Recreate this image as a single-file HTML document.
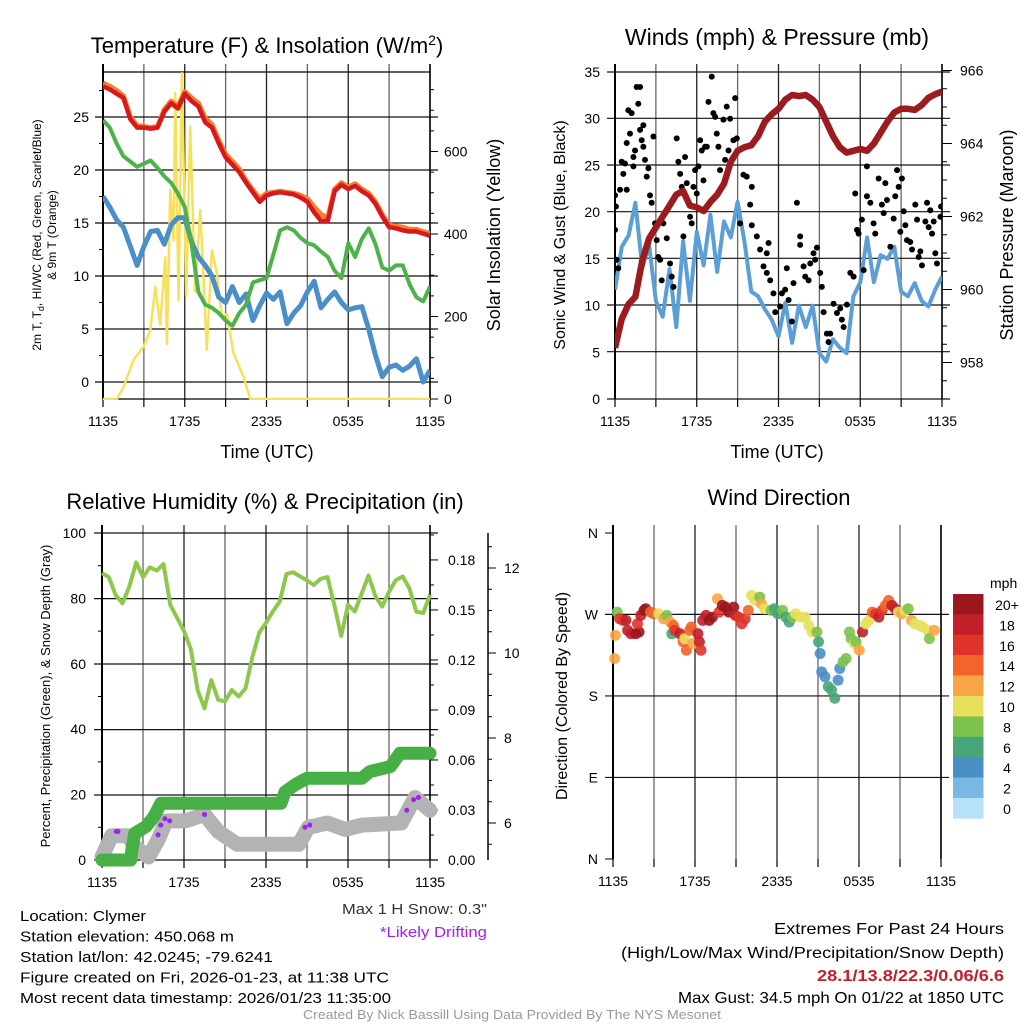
<!DOCTYPE html>
<html><head><meta charset="utf-8"><style>
html,body{margin:0;padding:0;background:#fff}
svg{display:block;font-family:"Liberation Sans",sans-serif}
</style></head><body>
<svg id="c" width="1024" height="1024" viewBox="0 0 1024 1024"></svg>
<script>
// ---------- DATA ----------
const tickHours=[0,6,12,18,24];
const timeLabels=["1135","1735","2335","0535","1135"];
const tempRed=[27.9,27.6,27.2,26.8,24.8,24.0,24.0,23.9,24.0,25.5,26.3,25.8,27.2,26.5,26.0,24.5,24.0,22.5,21.2,20.5,19.8,18.8,17.9,17.0,17.6,17.8,17.9,17.8,17.7,17.4,17.0,16.0,15.2,15.2,18.0,18.6,18.2,18.5,18.0,17.6,16.8,15.6,14.6,14.5,14.3,14.2,14.2,14.0,13.8];
const tempOrange=[28.2,27.9,27.5,27.0,25.0,24.2,24.1,24.0,24.1,25.7,26.5,26.0,27.4,26.8,26.3,24.9,24.3,22.8,21.5,20.8,20.1,19.0,18.1,17.3,17.8,17.9,18.0,17.9,17.8,17.6,17.3,16.5,15.8,15.5,18.2,18.8,18.4,18.7,18.2,17.8,17.0,15.8,14.8,14.7,14.6,14.4,14.4,14.2,14.0];
const tempGreen=[24.7,24.0,22.5,21.3,20.8,20.3,20.6,20.9,20.2,19.4,18.8,17.8,16.5,13.0,8.5,7.3,7.0,6.5,5.8,5.3,6.5,7.3,9.4,9.6,9.8,12.0,14.3,14.6,14.3,13.6,13.1,12.9,12.3,11.8,10.5,9.8,13.1,11.8,13.5,14.5,13.0,10.8,10.5,11.0,11.0,9.2,8.0,7.6,9.0];
const tempBlue=[17.5,16.5,15.3,14.6,12.8,11.0,12.8,14.2,14.3,13.0,14.8,15.5,15.5,13.2,11.8,11.0,10.0,8.0,7.5,9.0,7.5,8.3,5.8,7.2,8.4,7.8,8.5,5.5,6.5,7.2,8.5,9.5,7.0,7.8,8.5,7.5,6.8,7.0,7.1,5.0,2.5,0.5,1.4,1.6,1.1,1.5,2.2,0.0,1.1];
const insolHours=[0,1.03,1.52,2.25,2.98,3.47,3.84,4.2,4.57,4.69,4.94,5.18,5.3,5.55,5.79,6.11,6.4,6.77,7.14,7.62,7.99,8.36,8.72,9.09,9.58,10.31,10.8,24];
const insolValues=[0,0,30,95,127,167,272,180,343,133,507,385,742,240,790,250,660,260,458,119,361,305,200,206,111,54,0,0];
const windSpeed=[11.7,16.3,17.5,21.0,14.0,16.5,10.5,8.8,13.9,7.7,16.9,10.5,17.9,14.3,19.7,13.6,19.0,17.3,21.1,16.9,11.5,11.0,9.6,8.5,6.7,10.3,6.0,10.0,7.7,10.0,4.9,4.0,6.4,5.5,4.9,11.0,12.5,17.3,12.5,15.4,15.0,16.3,11.5,11.0,12.4,10.5,9.9,11.7,13.1];
const pressure=[958.4,959.2,959.6,959.8,960.8,961.4,961.7,962.0,962.3,962.6,962.7,962.3,962.25,962.15,962.4,962.6,962.9,963.5,963.8,963.9,963.95,964.2,964.6,964.8,964.95,965.2,965.33,965.3,965.33,965.2,965.0,964.6,964.2,963.9,963.75,963.8,963.85,963.8,964.0,964.3,964.6,964.85,964.95,964.95,964.92,965.05,965.25,965.35,965.42];
const gustHours=[0,0.07,0,0.12,0.24,0.37,0.49,0.61,0.73,0.86,0.86,0.98,1.10,1.22,1.35,1.35,1.47,1.59,1.71,1.84,1.84,1.96,2.08,2.08,2.20,2.33,2.45,2.57,2.69,2.82,2.94,3.06,3.18,3.31,3.43,3.55,3.80,4.04,4.16,4.29,4.53,4.65,4.78,4.90,5.02,5.14,5.27,5.51,5.63,5.76,5.88,6.00,6.12,6.25,6.37,6.49,6.61,6.74,6.86,7.10,7.22,7.35,7.47,7.59,7.71,7.96,8.08,8.20,8.33,8.45,8.69,8.82,8.94,9.18,9.43,9.67,10.04,9.92,10.04,10.41,10.65,10.90,11.14,11.27,11.14,11.39,11.63,11.76,12.12,12.25,12.49,12.61,12.74,12.98,13.10,13.35,13.59,13.59,13.84,13.96,14.21,14.33,14.57,14.69,14.82,15.06,15.18,15.31,15.55,15.67,15.80,16.04,16.29,16.53,16.65,16.78,17.02,17.27,17.51,17.63,17.76,17.88,18.12,18.25,18.49,18.49,18.74,18.98,19.10,19.35,19.59,19.72,19.84,19.96,20.21,20.45,20.57,20.70,20.82,20.94,21.06,21.19,21.31,21.43,21.67,21.80,22.04,22.17,22.29,22.41,22.53,22.78,22.90,23.02,23.14,23.27,23.39,23.51,23.63,23.88,23.93];
const gustValues=[21.8,20.6,18.1,14.9,14.0,22.4,25.4,24.1,25.2,22.4,27.4,30.9,28.4,30.6,24.9,25.9,26.6,33.4,31.6,33.4,28.8,27.7,29.3,27.0,25.6,23.8,24.7,21.8,21.0,28.1,18.8,17.0,15.2,14.9,12.7,18.8,17.2,14.5,13.1,12.0,27.9,25.4,24.1,22.7,17.4,25.9,23.1,19.5,18.8,22.7,24.5,22.0,24.9,27.7,26.6,23.4,27.0,27.0,31.8,34.5,30.6,30.2,28.4,27.0,24.5,29.9,25.6,31.3,26.6,30.0,27.7,32.2,27.9,18.8,24.0,23.8,22.7,20.8,18.6,17.4,16.0,14.2,15.6,16.7,13.5,12.7,11.3,9.3,9.9,11.3,11.7,14.0,10.6,8.3,12.4,21.0,17.4,16.5,14.2,13.1,12.7,14.5,15.6,14.9,16.2,13.5,12.0,9.3,7.0,6.1,7.0,10.2,9.2,9.7,8.5,7.7,10.1,13.5,13.1,22.0,18.1,17.7,19.2,13.8,24.9,21.7,21.0,18.8,17.7,23.6,20.8,19.9,23.1,21.3,16.3,19.3,21.7,24.5,22.7,17.9,23.6,20.1,18.6,17.0,16.8,16.0,20.8,19.2,15.2,15.8,14.3,19.0,21.0,18.4,20.2,17.7,19.0,15.6,14.5,19.5,20.6];
const rhValues=[87.7,86.5,81.0,78.5,83.6,91.0,86.5,89.5,88.5,90.5,78.0,74.0,70.0,64.5,51.9,46.4,55.0,49.0,48.5,52.0,50.0,52.5,62.0,69.5,72.5,76.0,79.0,87.5,88.0,86.7,85.5,84.1,86.0,86.5,78.0,68.5,78.0,76.0,81.5,87.0,80.8,77.5,82.0,85.6,86.7,83.0,76.0,75.5,81.1];
const precipHours=[0,2.1,2.2,2.4,3.2,3.8,4.3,13.1,13.4,14.3,15.0,19.0,19.6,21.1,21.8,24];
const precipValues=[0,0,0.007,0.016,0.02,0.026,0.034,0.034,0.041,0.046,0.049,0.049,0.053,0.056,0.064,0.064];
const snowHours=[0,0.7,1.9,2.4,3.4,4.1,4.7,6.1,7.5,8.5,9.9,14.4,15.1,16.5,17.8,19.0,21.9,22.9,24];
const snowValues=[5.2,5.7,5.7,5.45,5.2,5.6,6.05,6.05,6.2,5.8,5.5,5.5,5.9,6.0,5.85,5.95,6.0,6.6,6.3];
const driftHours=[1.05,1.17,4.1,4.3,4.6,4.95,7.5,14.85,15.2,22.3,22.8,23.15];
const driftValues=[5.8,5.8,5.72,5.95,6.1,6.05,6.2,5.9,5.95,6.3,6.55,6.6];
const dirHours=[0.12,0.17,0.31,0.48,0.72,0.95,1.07,1.31,1.67,1.91,1.79,2.03,2.27,2.39,2.74,2.98,3.34,3.7,3.94,4.18,4.42,4.3,4.53,4.89,5.13,5.25,5.37,5.61,5.73,5.85,6.21,6.32,6.44,6.56,6.8,7.04,7.28,7.64,7.76,8.0,8.23,8.47,8.83,8.95,9.19,9.43,9.67,9.9,10.14,10.38,10.74,10.86,11.1,11.58,11.81,12.05,12.41,12.65,12.89,13.13,13.37,13.72,14.08,14.32,14.56,14.92,15.04,15.16,15.27,15.51,15.75,15.99,16.23,16.47,16.59,16.83,17.06,17.3,17.42,17.66,17.78,18.02,18.26,18.5,18.74,18.97,19.21,19.45,19.69,19.93,20.17,20.41,20.64,20.88,21.12,21.36,21.6,21.84,22.08,22.43,22.67,23.03,23.15,23.51];
const dirDegrees=[221.3,246.9,272.5,265.2,263.4,263.4,252.4,248.7,248.7,250.6,259.7,268.9,274.4,276.2,272.5,270.7,270.7,265.2,268.9,261.6,257.9,248.7,252.4,248.7,239.6,243.3,230.4,252.4,256.1,237.8,248.7,239.6,230.4,263.4,268.9,263.4,267.0,287.2,272.5,279.9,278.0,272.5,278.0,268.9,267.0,259.7,265.2,274.4,290.8,285.3,289.0,281.7,276.2,274.4,276.2,270.7,274.4,267.0,261.6,267.0,270.7,267.0,267.0,257.9,250.6,250.6,239.6,226.8,206.6,201.2,190.2,186.5,177.4,197.5,210.3,217.6,221.3,250.6,243.3,237.8,239.6,230.4,250.6,259.7,263.4,272.5,270.7,267.0,274.4,279.9,285.3,279.9,276.2,272.5,270.7,274.4,276.2,263.4,259.7,257.9,256.1,252.4,243.3,252.4];
const dirSpeeds=[13,12,8,16,16,18,18,18,20,20,17,18,20,20,15,14,11,12,8,13,14,6,16,18,14,10,14,15,14,12,18,18,17,18,19,20,20,12,17,20,20,20,20,18,16,16,17,15,10,10,8,12,10,8,6,6,8,6,6,8,10,11,10,10,10,8,6,4,4,4,6,6,6,4,4,8,8,8,9,10,8,13,18,10,11,14,17,18,16,14,15,18,18,11,12,10,8,13,11,10,10,11,8,13];
const cbLabels=["20+","18","16","14","12","10","8","6","4","2","0"];
const cbColors=["#9b171d","#c1202a","#e0342b","#f2642a","#f8a545","#e7e05c","#7cc24c","#47a677","#4a8ec6","#7ab8e4","#b7e1f7"];

// ---------- HELPERS ----------
const svg=document.getElementById('c');
const NS='http://www.w3.org/2000/svg';
function el(tag,attrs,parent){const e=document.createElementNS(NS,tag);for(const k in attrs)e.setAttribute(k,attrs[k]);(parent||svg).appendChild(e);return e;}
function txt(s,x,y,size,anchor,extra,parent){const t=el('text',Object.assign({x:x,y:y,'font-size':size,'text-anchor':anchor||'middle',fill:'#000'},extra||{}),parent);t.textContent=s;return t;}
function pathD(xs,ys){return xs.map((x,i)=>(i?'L':'M')+x.toFixed(1)+' '+ys[i].toFixed(1)).join('');}
const halfHours=tempRed.map((_,i)=>i*0.5);

function frame(g,x0,x1,y0,y1,hLines){
  for(let k=0;k<=8;k++){const x=x0+k*(x1-x0)/8;el('line',{x1:x,x2:x,y1:y0-8,y2:y1,stroke:k%2?'#666':'#222','stroke-width':1.3},g);}
  hLines.forEach(y=>el('line',{x1:x0-8,x2:x1+8,y1:y,y2:y,stroke:'#111','stroke-width':1.2},g));
  el('line',{x1:x0,x2:x0,y1:y0-8,y2:y1,stroke:'#000','stroke-width':2},g);
}
function xAxis(g,x0,x1,yb){
  tickHours.forEach((h,i)=>{const x=x0+h*(x1-x0)/24;
    const t=txt(timeLabels[i],x,yb+27,14,'middle',{},g);
    
    });
  for(let k=0;k<=8;k++){const x=x0+k*(x1-x0)/8;el('line',{x1:x,x2:x,y1:yb,y2:yb+8,stroke:'#000','stroke-width':1.2},g);}
}

// ---------- PANEL 1 ----------
(function(){
  const g=el('g',{});
  
  
  const X=h=>103+h*327/24, YL=v=>382-v*10.6, YR=v=>399-v*0.4125;
  frame(g,103,430,72,399,[117,170,223,276,329,382]);
  el('line',{x1:103,x2:430,y1:72,y2:72,stroke:'#000','stroke-width':1.2},g);
  el('line',{x1:103,x2:430,y1:399,y2:399,stroke:'#000','stroke-width':1.2},g);
  el('line',{x1:430,x2:430,y1:64,y2:399,stroke:'#000','stroke-width':1.5},g);
  [0,5,10,15,20,25].forEach(v=>{el('line',{x1:95,x2:103,y1:YL(v),y2:YL(v),stroke:'#000'},g);const t=txt(String(v),89,YL(v)+5,14,'end',{},g);});
  [2.5,7.5,12.5,17.5,22.5,27.5].forEach(v=>el('line',{x1:99,x2:103,y1:YL(v),y2:YL(v),stroke:'#000'},g));
  [0,200,400,600].forEach(v=>{el('line',{x1:430,x2:438,y1:YR(v),y2:YR(v),stroke:'#000'},g);const t=txt(String(v),444,YR(v)+5,14,'start',{},g);});
  for(let v=50;v<800;v+=50){if(v%200)el('line',{x1:430,x2:434,y1:YR(v),y2:YR(v),stroke:'#000'},g);}
  xAxis(g,103,430,399);
  const cp=el('clipPath',{id:'cp1'},g);el('rect',{x:103,y:68,width:327,height:332},cp);
  const lg=el('g',{'clip-path':'url(#cp1)'},g);
  const s1=el('path',{d:pathD(insolHours.map(X),insolValues.map(YR)),fill:'none',stroke:'#f7e05a','stroke-width':2.5,'stroke-linejoin':'round'},lg);
  
  const s2=el('path',{d:pathD(halfHours.map(X),tempBlue.map(YL)),fill:'none',stroke:'#4a8fc8','stroke-width':5,'stroke-linejoin':'round'},lg);
  
  const s3=el('path',{d:pathD(halfHours.map(X),tempGreen.map(YL)),fill:'none',stroke:'#4db348','stroke-width':4,'stroke-linejoin':'round'},lg);
  
  const s4=el('path',{d:pathD(halfHours.map(X),tempOrange.map(YL)),fill:'none',stroke:'#f47e30','stroke-width':5,'stroke-linejoin':'round'},lg);
  
  const s5=el('path',{d:pathD(halfHours.map(X),tempRed.map(YL)),fill:'none',stroke:'#d7191c','stroke-width':4.5,'stroke-linejoin':'round'},lg);
  
  const t=el('text',{x:267,y:53,'font-size':22,'text-anchor':'middle'},g);t.innerHTML='Temperature (F) &amp; Insolation (W/m<tspan dy="-8" font-size="14">2</tspan><tspan dy="8">)</tspan>';
  
  const xt=txt('Time (UTC)',267,458,18,'middle',{},g);
  const rt=txt('Solar Insolation (Yellow)',0,0,18,'middle',{transform:'translate(500,235) rotate(-90)'},g);
  const lt=el('text',{'font-size':12,'text-anchor':'middle',transform:'translate(41,235) rotate(-90)'},g);
  lt.innerHTML='2m T, T<tspan font-size="9" dy="3">d</tspan><tspan dy="-3">, HI/WC (Red, Green, Scarlet/Blue)</tspan>';
  
  txt('& 9m T (Orange)',0,0,12,'middle',{transform:'translate(56,235) rotate(-90)'},g);
})();

// ---------- PANEL 2 ----------
(function(){
  const g=el('g',{});
  
  
  const X=h=>615+h*327/24, YW=v=>399-v*9.343, YP=p=>399-(p-957)*36.5;
  frame(g,615,942,72,399,[72,118.3,165,211.7,258.3,305,351.7,399]);
  el('line',{x1:942,x2:942,y1:64,y2:399,stroke:'#000','stroke-width':1.5},g);
  [0,5,10,15,20,25,30,35].forEach(v=>{const t=txt(String(v),600,YW(v)+5,14,'end',{},g);});
  [958,960,962,964,966].forEach(v=>{el('line',{x1:942,x2:952,y1:YP(v),y2:YP(v),stroke:'#000'},g);const t=txt(String(v),960,YP(v)+5,14,'start',{},g);});
  for(let p=957.5;p<966;p+=0.5){if(p%2)el('line',{x1:942,x2:947,y1:YP(p),y2:YP(p),stroke:'#000'},g);}
  xAxis(g,615,942,399);
  const cp=el('clipPath',{id:'cp2'},g);el('rect',{x:615,y:68,width:327,height:332},cp);
  const lg=el('g',{'clip-path':'url(#cp2)'},g);
  const w=el('path',{d:pathD(halfHours.map(X),windSpeed.map(YW)),fill:'none',stroke:'#5b9fd6','stroke-width':4,'stroke-linejoin':'round'},lg);
  
  gustHours.forEach((h,i)=>{const c=el('circle',{cx:X(h),cy:YW(gustValues[i]),r:3,fill:'#000'},lg);
    
    });
  const p=el('path',{d:pathD(halfHours.map(X),pressure.map(YP)),fill:'none',stroke:'#9b1b1e','stroke-width':6.5,'stroke-linejoin':'round'},lg);
  
  const t=txt('Winds (mph) & Pressure (mb)',777,45,23,'middle',{},g);
  const xt=txt('Time (UTC)',777,458,18,'middle',{},g);
  const lt=txt('Sonic Wind & Gust (Blue, Black)',0,0,16,'middle',{transform:'translate(565,235) rotate(-90)'},g);
  const rt=txt('Station Pressure (Maroon)',0,0,18,'middle',{transform:'translate(1013,235) rotate(-90)'},g);
})();

// ---------- PANEL 3 ----------
(function(){
  const g=el('g',{});
  
  
  const X=h=>102+h*328/24, YH=v=>860-v*3.27, YPr=v=>860-v*1667, YS=s=>823-(s-6)*42.5;
  frame(g,102,430,533,860,[533,598.6,664,729.6,795,860]);
  el('line',{x1:430,x2:430,y1:525,y2:860,stroke:'#000','stroke-width':1.5},g);
  [0,20,40,60,80,100].forEach(v=>{const t=txt(String(v),86,YH(v)+5,14,'end',{},g);});
  [10,30,50,70,90].forEach(v=>el('line',{x1:98,x2:102,y1:YH(v),y2:YH(v),stroke:'#000'},g));
  ['0.00','0.03','0.06','0.09','0.12','0.15','0.18'].forEach(s=>{const v=parseFloat(s);el('line',{x1:430,x2:438,y1:YPr(v),y2:YPr(v),stroke:'#000'},g);const t=txt(s,448,YPr(v)+5,14,'start',{},g);});
  for(let v=0.015;v<0.2;v+=0.03)el('line',{x1:430,x2:434,y1:YPr(v),y2:YPr(v),stroke:'#000'},g);
  el('line',{x1:488,x2:488,y1:533,y2:860,stroke:'#000','stroke-width':1.5},g);
  [6,8,10,12].forEach(v=>{el('line',{x1:488,x2:496,y1:YS(v),y2:YS(v),stroke:'#000'},g);const t=txt(String(v),504,YS(v)+5,14,'start',{},g);});
  for(let v=5.5;v<12.8;v+=0.5){if(v%2)el('line',{x1:488,x2:492,y1:YS(v),y2:YS(v),stroke:'#000'},g);}
  xAxis(g,102,430,860);
  const lg=el('g',{},g);
  const sn=el('path',{d:pathD(snowHours.map(X),snowValues.map(YS)),fill:'none',stroke:'#b3b3b3','stroke-width':15,'stroke-linejoin':'round','stroke-linecap':'round'},lg);
  
  const pr=el('path',{d:pathD(precipHours.map(X),precipValues.map(YPr)),fill:'none',stroke:'#46b044','stroke-width':13,'stroke-linejoin':'round','stroke-linecap':'round'},lg);
  
  driftHours.forEach((h,i)=>{const c=el('circle',{cx:X(h),cy:YS(driftValues[i]),r:2.5,fill:'#a020f0'},lg);
    
    });
  const rh=el('path',{d:pathD(halfHours.map(X),rhValues.map(YH)),fill:'none',stroke:'#8dc84c','stroke-width':4,'stroke-linejoin':'round'},lg);
  
  const t=txt('Relative Humidity (%) & Precipitation (in)',265,509,22,'middle',{},g);
  const lt=txt('Percent, Precipitation (Green), & Snow Depth (Gray)',0,0,13,'middle',{transform:'translate(50,696) rotate(-90)'},g);
})();

// ---------- PANEL 4 ----------
(function(){
  const g=el('g',{});
  
  
  const X=h=>613+h*328/24, YD=d=>859-d*0.906;
  frame(g,613,941,533,859,[YD(90),YD(180),YD(270)]);
  el('line',{x1:941,x2:941,y1:525,y2:859,stroke:'#000','stroke-width':1.5},g);
  el('line',{x1:605,x2:613,y1:533,y2:533,stroke:'#000'},g);
  el('line',{x1:605,x2:613,y1:859,y2:859,stroke:'#000'},g);
  ['N','E','S','W','N'].forEach((s,i)=>{const t=txt(s,598,YD(i*90)+5,14,'end',{},g);});
  xAxis(g,613,941,859);
  function col(s){const b=Math.min(10,Math.max(0,Math.floor(s/2)));return cbColors[10-b];}
  dirHours.forEach((h,i)=>{const c=el('circle',{cx:X(h),cy:YD(dirDegrees[i]),r:5.5,fill:col(dirSpeeds[i]),'fill-opacity':0.9},g);
    
    });
  const t=txt('Wind Direction',779,505,22,'middle',{},g);
  const lt=txt('Direction (Colored By Speed)',0,0,16,'middle',{transform:'translate(567,696) rotate(-90)'},g);
  const cb=el('g',{},g);
  txt('mph',990,588,14,'start',{},cb);
  cbColors.forEach((c,i)=>{const r=el('rect',{x:953,y:594+i*20.4,width:30.5,height:20.6,fill:c},cb);
    
    
    txt(cbLabels[i],1007,594+i*20.4+16,14,'middle',{},cb);});
})();

// ---------- TEXT ----------
(function(){
  const g=el('g',{'font-size':15});
  
  
  const lines=[['Location: Clymer',126],['Station elevation: 450.068 m',214],['Station lat/lon: 42.0245; -79.6241',253],['Figure created on Fri, 2026-01-23, at 11:38 UTC',369],['Most recent data timestamp: 2026/01/23 11:35:00',371]];
  lines.forEach((l,i)=>txt(l[0],20,921+i*20.5,15,'start',{textLength:l[1],lengthAdjust:'spacingAndGlyphs'},g));
  const s=txt('Max 1 H Snow: 0.3"',487,914,15,'end',{fill:'#333',textLength:145,lengthAdjust:'spacingAndGlyphs'});
  const d=txt('*Likely Drifting',487,937,15,'end',{fill:'#a020f0',textLength:107,lengthAdjust:'spacingAndGlyphs'});
  const r=el('g',{});
  txt('Extremes For Past 24 Hours',1004,934,16,'end',{textLength:230,lengthAdjust:'spacingAndGlyphs'},r);
  txt('(High/Low/Max Wind/Precipitation/Snow Depth)',1004,958,16,'end',{textLength:383,lengthAdjust:'spacingAndGlyphs'},r);
  txt('28.1/13.8/22.3/0.06/6.6',1004,981,16,'end',{fill:'#c1202a','font-weight':'bold',textLength:187,lengthAdjust:'spacingAndGlyphs'},r);
  txt('Max Gust: 34.5 mph On 01/22 at 1850 UTC',1004,1003,16,'end',{textLength:326,lengthAdjust:'spacingAndGlyphs'},r);
  const f=txt('Created By Nick Bassill Using Data Provided By The NYS Mesonet',512,1019,13,'middle',{fill:'#999',textLength:418,lengthAdjust:'spacingAndGlyphs'});
  
})();
</script>
</body></html>
